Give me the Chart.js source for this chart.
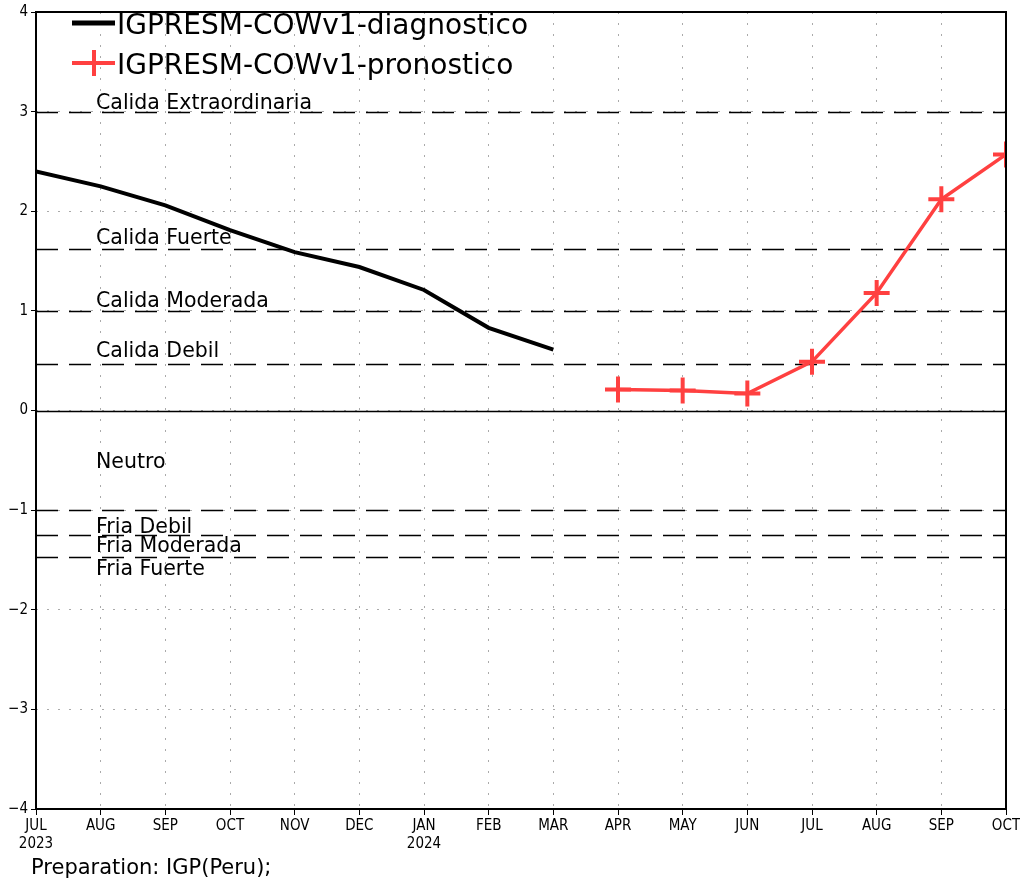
<!DOCTYPE html>
<html>
<head>
<meta charset="utf-8">
<script src="https://cdn.jsdelivr.net/npm/chart.js@4"></script>
<style>
  body { margin: 0; background: #fff; }
  #wrap { width: 1020px; height: 881px; }
</style>
</head>
<body>
<div id="wrap"><canvas id="chart" width="1020" height="881"></canvas></div>
<script>
// meses del eje x
const months = ['JUL', 'AUG', 'SEP', 'OCT', 'NOV', 'DEC', 'JAN', 'FEB', 'MAR', 'APR', 'MAY', 'JUN', 'JUL', 'AUG', 'SEP', 'OCT'];
const years = ['2023', '', '', '', '', '', '2024', '', '', '', '', '', '', '', '', ''];

// series
const diagnostico = [2.40, 2.25, 2.06, 1.81, 1.59, 1.44, 1.21, 0.83, 0.61, null, null, null, null, null, null, null];
const pronostico = [null, null, null, null, null, null, null, null, null, 0.21, 0.20, 0.17, 0.49, 1.18, 2.12, 2.57];

// umbrales y etiquetas de categorias
const thresholdValues = [3.0, 1.62, 1.0, 0.47, -1.0, -1.25, -1.47];
const categoryLabels = ['Calida Extraordinaria', 'Calida Fuerte', 'Calida Moderada', 'Calida Debil', 'Neutro', 'Fria Debil', 'Fria Moderada', 'Fria Fuerte'];
const categoryLabelValues = [3.03, 1.67, 1.04, 0.54, -0.58, -1.23, -1.42, -1.65];

const yTicks = [-4, -3, -2, -1, 0, 1, 2, 3, 4];

const labels = months.map((m, i) => years[i] ? [m, years[i]] : m);

const tickFont = { family: "'DejaVu Sans Condensed', 'Liberation Sans Narrow', 'DejaVu Sans', sans-serif", size: 15 };

// plugin: umbrales, etiquetas, marco, leyenda y pie
const decorations = {
    id: 'decorations',
    beforeDatasetsDraw(chart) {
        const { ctx, chartArea: a, scales: { y } } = chart;
        ctx.save();
        // linea cero
        ctx.strokeStyle = '#000';
        ctx.lineWidth = 1.5;
        const y0 = Math.round(y.getPixelForValue(0)) + 0.5;
        ctx.beginPath();
        ctx.moveTo(a.left, y0);
        ctx.lineTo(a.right, y0);
        ctx.stroke();

        // umbrales punteados
        ctx.setLineDash([22, 11]);
        ctx.lineWidth = 1.6;
        thresholdValues.forEach(v => {
            const py = Math.round(y.getPixelForValue(v)) + 0.5;
            ctx.beginPath();
            ctx.moveTo(a.left, py);
            ctx.lineTo(a.right, py);
            ctx.stroke();
        });
        ctx.setLineDash([]);

        // etiquetas de categorias
        ctx.fillStyle = '#000';
        ctx.font = "20.5px 'DejaVu Sans', sans-serif";
        ctx.textBaseline = 'alphabetic';
        ctx.textAlign = 'left';
        categoryLabels.forEach((t, i) => {
            ctx.fillText(t, a.left + 60, y.getPixelForValue(categoryLabelValues[i]));
        });
        ctx.restore();
    },
    afterDraw(chart) {
        const { ctx, chartArea: a } = chart;
        ctx.save();
        // marco
        ctx.strokeStyle = '#000';
        ctx.lineWidth = 2;
        ctx.strokeRect(a.left, a.top, a.right - a.left, a.bottom - a.top);

        // leyenda
        ctx.font = "28px 'DejaVu Sans', sans-serif";
        ctx.textBaseline = 'alphabetic';
        ctx.textAlign = 'left';
        chart.data.datasets.forEach((ds, i) => {
            const ly = 23 + i * 40;
            ctx.strokeStyle = ds.borderColor;
            ctx.lineWidth = i === 0 ? 5 : 4;
            ctx.beginPath();
            ctx.moveTo(72, ly);
            ctx.lineTo(115, ly);
            ctx.stroke();
            if (i === 1) {
                ctx.beginPath();
                ctx.moveTo(94, ly - 13);
                ctx.lineTo(94, ly + 13);
                ctx.stroke();
            }
            ctx.fillStyle = '#000';
            ctx.fillText(ds.label, 117, ly + 11);
        });

        // pie
        ctx.font = "21px 'DejaVu Sans', sans-serif";
        ctx.fillText('Preparation: IGP(Peru);', 31, 874);
        ctx.restore();
    }
};

const ctx = document.getElementById('chart').getContext('2d');
new Chart(ctx, {
    type: 'line',
    data: {
        labels: labels,
        datasets: [{
            label: 'IGPRESM-COWv1-diagnostico',
            data: diagnostico,
            borderColor: '#000',
            borderWidth: 4,
            pointRadius: 0,
            tension: 0,
            clip: 0
        }, {
            label: 'IGPRESM-COWv1-pronostico',
            data: pronostico,
            borderColor: '#ff4040',
            borderWidth: 3.5,
            pointStyle: 'cross',
            pointRadius: 13,
            pointBorderWidth: 4,
            pointBorderColor: '#ff4040',
            tension: 0,
            clip: 0
        }]
    },
    options: {
        responsive: false,
        animation: false,
        devicePixelRatio: 1,
        layout: { autoPadding: false, padding: { top: 12, right: 14, left: 0, bottom: 0 } },
        plugins: { legend: { display: false }, tooltip: { enabled: false } },
        scales: {
            x: {
                offset: false,
                grid: { color: '#aaa', lineWidth: 1, tickColor: '#000', tickLength: 6, tickBorderDash: [] },
                border: { display: false, dash: [2, 9] },
                ticks: { color: '#000', font: tickFont, maxRotation: 0, autoSkip: false, padding: 2 },
                afterFit(scale) {
                    scale.height = 72;
                    scale.paddingLeft = 0;
                    scale.paddingRight = 0;
                }
            },
            y: {
                min: -4,
                max: 4,
                afterBuildTicks(scale) { scale.ticks = yTicks.map(v => ({ value: v })); },
                grid: { color: '#aaa', lineWidth: 1, tickColor: '#000', tickLength: 5, tickBorderDash: [] },
                border: { display: false, dash: [2, 9] },
                ticks: {
                    color: '#000', font: tickFont, padding: 3,
                    callback: v => String(v).replace('-', '\u2212')
                },
                afterFit(scale) {
                    scale.width = 36;
                    scale.paddingTop = 0;
                    scale.paddingBottom = 0;
                }
            }
        }
    },
    plugins: [decorations]
});
</script>
</body>
</html>
